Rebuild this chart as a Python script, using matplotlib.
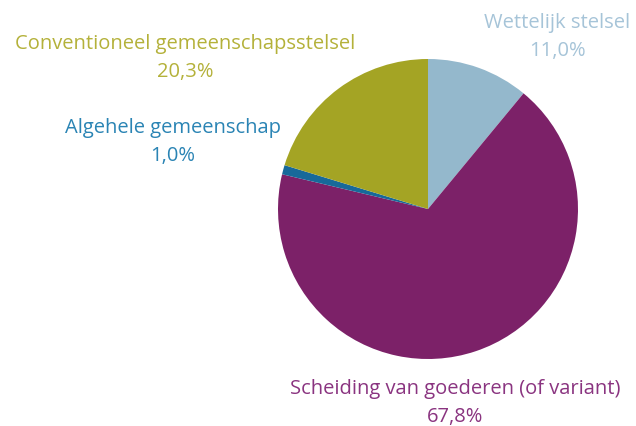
import matplotlib
matplotlib.use("Agg")
import matplotlib.pyplot as plt

# slices, clockwise from 12 o'clock
labels = ["Wettelijk stelsel", "Scheiding van goederen (of variant)",
          "Algehele gemeenschap", "Conventioneel gemeenschapsstelsel"]
shares = [11.0, 67.8, 1.0, 20.3]
colors = ["#94b8cc", "#7c2168", "#17699a", "#a4a424"]
text_colors = ["#a6c4d8", "#8a3480", "#2a84b4", "#b4b13a"]

W, H = 636, 426
fig = plt.figure(figsize=(W / 100, H / 100), dpi=100)
ax = fig.add_axes([0, 0, 1, 1])

ax.pie(shares, colors=colors, startangle=90, counterclock=False,
       center=(428, H - 209), radius=150, frame=True,
       wedgeprops={"linewidth": 0})
ax.set_xlim(0, W)
ax.set_ylim(0, H)
ax.set_aspect("equal")
ax.axis("off")

# label anchor points (pixel coords from top)
label_pos = [(557, 37), (455, 403), (173, 142), (185, 58)]
for name, val, tc, (x, y) in zip(labels, shares, text_colors, label_pos):
    txt = f"{name}\n{val:.1f}%".replace(".", ",")
    ax.text(x, H - y, txt, ha="center", va="center", color=tc,
            fontsize=14.5, family="Open Sans", linespacing=1.5)

fig.savefig("out.png", dpi=100)
